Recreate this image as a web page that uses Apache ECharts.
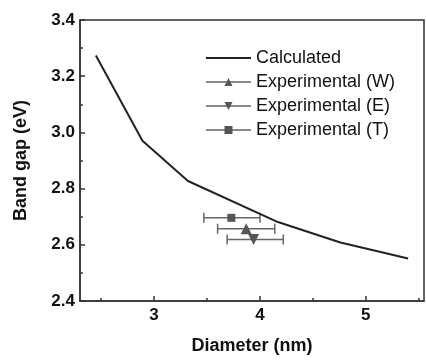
<!DOCTYPE html>
<html><head><meta charset="utf-8">
<script src="https://cdn.jsdelivr.net/npm/echarts@6/dist/echarts.min.js"></script>
<style>html,body{margin:0;padding:0;background:#fff}#c{width:426px;height:360px}</style>
</head><body><div id="c"></div>
<script>
const calcDiameter = [2.45, 2.89, 3.32, 4.17, 4.76, 5.40];
const calcGap = [3.274, 2.970, 2.827, 2.681, 2.608, 2.551];
const expNames = ['Experimental (W)', 'Experimental (E)', 'Experimental (T)'];
const expSymbols = ['triangle', 'triangle', 'rect'];
const expRotate = [0, 180, 0];
const expDiameter = [3.87, 3.94, 3.73];
const expGap = [2.657, 2.619, 2.696];
const expLow = [3.60, 3.69, 3.47];
const expHigh = [4.14, 4.22, 4.00];
const xTickLabels = [3, 4, 5];
const xMinorTicks = [2.5, 3.5, 4.5, 5.5];

const FONT = 'Liberation Sans, Arial, sans-serif';
const chart = echarts.init(document.getElementById('c'), null, {renderer: 'canvas'});

const series = [{
  name: 'Calculated', type: 'line', symbol: 'none', smooth: false,
  data: calcDiameter.map((d, i) => [d, calcGap[i]]),
  lineStyle: {color: '#222', width: 2}, itemStyle: {color: '#222'}, z: 3
}, {
  name: 'errbars', type: 'custom', silent: true, z: 2,
  data: expNames.map((n, i) => [expLow[i], expHigh[i], expGap[i]]),
  renderItem: function (params, api) {
    const a = api.coord([api.value(0), api.value(2)]);
    const b = api.coord([api.value(1), api.value(2)]);
    const h = 5;
    const st = {stroke: '#666', lineWidth: 1.5};
    return {type: 'group', children: [
      {type: 'line', shape: {x1: a[0], y1: a[1], x2: b[0], y2: b[1]}, style: st},
      {type: 'line', shape: {x1: a[0], y1: a[1] - h, x2: a[0], y2: a[1] + h}, style: st},
      {type: 'line', shape: {x1: b[0], y1: b[1] - h, x2: b[0], y2: b[1] + h}, style: st}
    ]};
  }
}];
expNames.forEach((n, i) => {
  series.push({
    name: n, type: 'line', data: [[expDiameter[i], expGap[i]]],
    symbol: expSymbols[i], symbolRotate: expRotate[i],
    symbolSize: expSymbols[i] === 'rect' ? 8 : 11,
    showSymbol: true,
    itemStyle: {color: '#555'}, lineStyle: {color: '#888', width: 1}, z: 4
  });
});

chart.setOption({
  animation: false,
  backgroundColor: '#fff',
  grid: {left: 80, right: 2, top: 20, bottom: 55, show: true, borderColor: '#333', borderWidth: 1.5, backgroundColor: 'transparent'},
  legend: {
    orient: 'vertical', left: 200, top: 44,
    data: [{name: 'Calculated', itemStyle: {opacity: 0}}].concat(expNames),
    itemWidth: 45, itemHeight: 10, itemGap: 6,
    textStyle: {fontSize: 18, fontFamily: FONT, color: '#111', lineHeight: 18}
  },
  xAxis: [{
    type: 'value', min: 2.3, max: 5.55, position: 'bottom',
    name: 'Diameter (nm)', nameLocation: 'middle', nameGap: 36,
    nameTextStyle: {fontSize: 18, fontWeight: 'bold', fontFamily: FONT, color: '#111'},
    axisLine: {show: true, onZero: false, lineStyle: {color: '#333', width: 1.5}},
    axisTick: {show: true, inside: true, length: 5, customValues: xTickLabels, lineStyle: {color: '#333', width: 1.5}},
    axisLabel: {customValues: xTickLabels, fontSize: 17, fontWeight: 'bold', fontFamily: FONT, color: '#111', margin: 6},
    splitLine: {show: false}
  }, {
    type: 'value', min: 2.3, max: 5.55, position: 'bottom',
    axisLine: {show: false},
    axisTick: {show: true, inside: true, length: 3, customValues: xMinorTicks, lineStyle: {color: '#333', width: 1.5}},
    axisLabel: {show: false}, splitLine: {show: false}
  }],
  yAxis: {
    type: 'value', min: 2.4, max: 3.4, interval: 0.2,
    name: 'Band gap (eV)', nameLocation: 'middle', nameGap: 50,
    nameTextStyle: {fontSize: 18, fontWeight: 'bold', fontFamily: FONT, color: '#111'},
    axisLine: {show: true, lineStyle: {color: '#333', width: 1.5}},
    axisTick: {show: true, inside: true, length: 5, lineStyle: {color: '#333', width: 1.5}},
    minorTick: {show: true, splitNumber: 2, length: 3, lineStyle: {color: '#333', width: 1.5}},
    axisLabel: {fontSize: 17, fontWeight: 'bold', fontFamily: FONT, color: '#111', margin: 5,
      formatter: v => v.toFixed(1)},
    splitLine: {show: false}, minorSplitLine: {show: false}
  },
  series: series
});
</script></body></html>
